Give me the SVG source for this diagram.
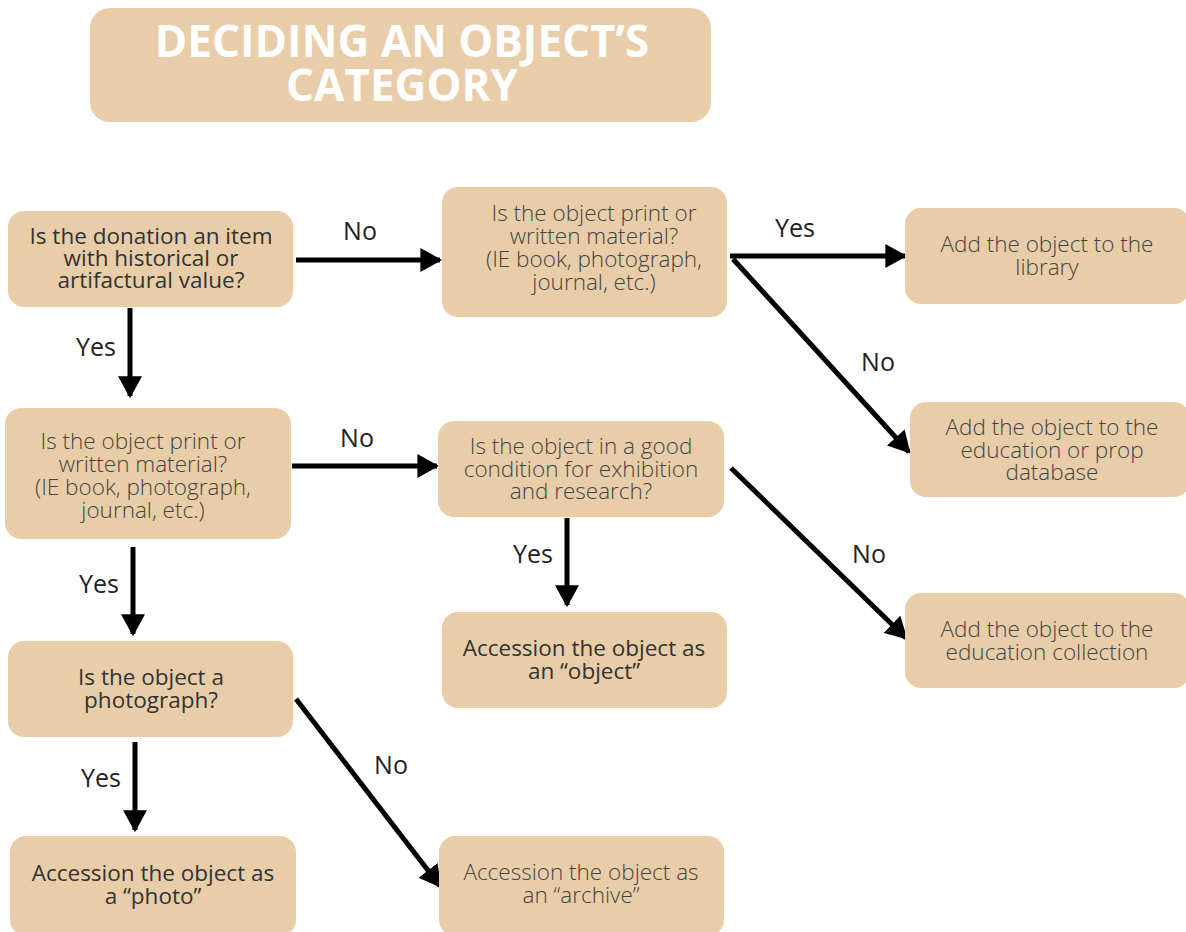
<svg xmlns="http://www.w3.org/2000/svg" width="1186" height="932" viewBox="0 0 1186 932">
<defs>
<style>
.box{fill:#E8CDA8;}
.t{font-family:"Open Sans","Liberation Sans",sans-serif;font-size:22.5px;fill:#333;text-anchor:middle;}
.lt{font-weight:300;fill:#444;}
.lbl{font-family:"Open Sans","Liberation Sans",sans-serif;font-size:25px;fill:#222;text-anchor:middle;}
.title{font-family:"Open Sans","Liberation Sans",sans-serif;font-size:44px;font-weight:700;fill:#fff;text-anchor:middle;}
.c{stroke:#000;stroke-width:5;fill:none;marker-end:url(#ah);}
</style>
<marker id="ah" markerUnits="userSpaceOnUse" markerWidth="22" markerHeight="24" refX="18" refY="11" orient="auto" viewBox="0 0 20 22">
<path d="M0,0 L20,11 L0,22 Z" fill="#000"/>
</marker>
</defs>
<rect width="1186" height="932" fill="#fff"/>
<g id="title">
<rect class="box" x="90" y="8" width="621" height="114" rx="20"/>
<text class="title" x="402" y="57">DECIDING AN OBJECT’S</text>
<text class="title" x="402" y="101">CATEGORY</text>
</g>
<g id="connectors">
<line class="c" x1="296" y1="260" x2="440" y2="260"/>
<text class="lbl" x="360" y="240">No</text>
<line class="c" x1="130" y1="308" x2="130" y2="396"/>
<text class="lbl" x="96" y="356">Yes</text>
<line class="c" x1="730" y1="256" x2="905" y2="256"/>
<text class="lbl" x="795" y="237">Yes</text>
<line class="c" x1="733" y1="259" x2="909" y2="452"/>
<text class="lbl" x="878" y="371">No</text>
<line class="c" x1="292" y1="466" x2="437" y2="466"/>
<text class="lbl" x="357" y="447">No</text>
<line class="c" x1="133" y1="547" x2="133" y2="634"/>
<text class="lbl" x="99" y="593">Yes</text>
<line class="c" x1="567" y1="518" x2="567" y2="605"/>
<text class="lbl" x="533" y="563">Yes</text>
<line class="c" x1="731" y1="468" x2="906" y2="638"/>
<text class="lbl" x="869" y="563">No</text>
<line class="c" x1="135" y1="742" x2="135" y2="830"/>
<text class="lbl" x="101" y="787">Yes</text>
<line class="c" x1="296" y1="699" x2="440" y2="886"/>
<text class="lbl" x="391" y="774">No</text>
</g>
<g id="n1">
<rect class="box" x="8" y="211" width="285" height="96" rx="16"/>
<text class="t" x="151" y="244">Is the donation an item</text>
<text class="t" x="151" y="266">with historical or</text>
<text class="t" x="151" y="288">artifactural value?</text>
</g>
<g id="n2">
<rect class="box" x="442" y="187" width="285" height="130" rx="16"/>
<text class="t lt" x="594" y="221">Is the object print or</text>
<text class="t lt" x="594" y="244">written material?</text>
<text class="t lt" x="594" y="267">(IE book, photograph,</text>
<text class="t lt" x="594" y="290">journal, etc.)</text>
</g>
<g id="n3">
<rect class="box" x="905" y="208" width="285" height="96" rx="16"/>
<text class="t lt" x="1047" y="252">Add the object to the</text>
<text class="t lt" x="1047" y="275">library</text>
</g>
<g id="n4">
<rect class="box" x="910" y="402" width="280" height="95" rx="16"/>
<text class="t lt" x="1052" y="435">Add the object to the</text>
<text class="t lt" x="1052" y="458">education or prop</text>
<text class="t lt" x="1052" y="480">database</text>
</g>
<g id="n5">
<rect class="box" x="5" y="408" width="286" height="131" rx="16"/>
<text class="t lt" x="143" y="449">Is the object print or</text>
<text class="t lt" x="143" y="472">written material?</text>
<text class="t lt" x="143" y="495">(IE book, photograph,</text>
<text class="t lt" x="143" y="518">journal, etc.)</text>
</g>
<g id="n6">
<rect class="box" x="438" y="421" width="286" height="96" rx="16"/>
<text class="t lt" x="581" y="454">Is the object in a good</text>
<text class="t lt" x="581" y="477">condition for exhibition</text>
<text class="t lt" x="581" y="499">and research?</text>
</g>
<g id="n7">
<rect class="box" x="442" y="612" width="285" height="96" rx="16"/>
<text class="t" x="584" y="656">Accession the object as</text>
<text class="t" x="584" y="679">an “object”</text>
</g>
<g id="n8">
<rect class="box" x="905" y="593" width="285" height="95" rx="16"/>
<text class="t lt" x="1047" y="637">Add the object to the</text>
<text class="t lt" x="1047" y="660">education collection</text>
</g>
<g id="n9">
<rect class="box" x="8" y="641" width="285" height="96" rx="16"/>
<text class="t" x="151" y="685">Is the object a</text>
<text class="t" x="151" y="708">photograph?</text>
</g>
<g id="n10">
<rect class="box" x="10" y="836" width="286" height="100" rx="16"/>
<text class="t" x="153" y="881">Accession the object as</text>
<text class="t" x="153" y="904">a “photo”</text>
</g>
<g id="n11">
<rect class="box" x="439" y="836" width="285" height="100" rx="16"/>
<text class="t lt" x="581" y="880">Accession the object as</text>
<text class="t lt" x="581" y="903">an “archive”</text>
</g>
</svg>
